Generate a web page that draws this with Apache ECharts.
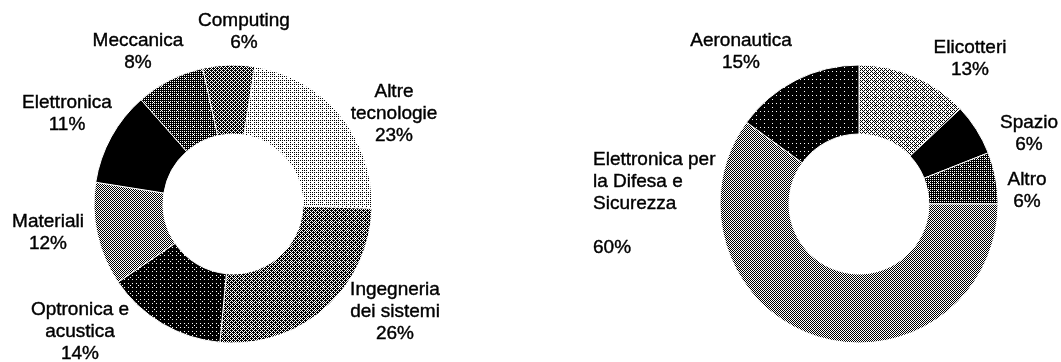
<!DOCTYPE html>
<html>
<head>
<meta charset="utf-8">
<script src="https://cdn.jsdelivr.net/npm/echarts@6/dist/echarts.min.js"></script>
<style>
  html, body { margin: 0; padding: 0; background: #fff; }
  #chart { width: 1061px; height: 362px; }
</style>
</head>
<body>
<div id="chart"></div>
<script>
// dati: aree tecnologiche (sinistra) e settori (destra)
const techNames = ['Altre\ntecnologie', 'Ingegneria\ndei sistemi', 'Optronica e\nacustica', 'Materiali', 'Elettronica', 'Meccanica', 'Computing']
const techValues = [23, 26, 14, 12, 11, 8, 6]
const sectorNames = ['Elicotteri', 'Spazio', 'Altro', 'Elettronica per\nla Difesa e\nSicurezza\n', 'Aeronautica']
const sectorValues = [13, 6, 6, 60, 15]

// retinatura (quota di nero) per ogni spicchio
const techShade = [0.2, 0.6, 0.92, 0.5, 1, 0.72, 0.62]
const sectorShade = [0.38, 1, 0.72, 0.5, 0.94]

// posizione delle etichette (centro del blocco di testo)
const techLabelPos = [[394, 114], [395, 312], [80, 332], [48, 233], [67, 114], [138, 52], [244, 32]]
const sectorLabelPos = [[970, 59], [1029, 134], [1027, 191], [593, 204], [741, 52]]

// matrice di Bayer 8x8 per il retino
const bayer = [
  [0, 32, 8, 40, 2, 34, 10, 42],
  [48, 16, 56, 24, 50, 18, 58, 26],
  [12, 44, 4, 36, 14, 46, 6, 38],
  [60, 28, 52, 20, 62, 30, 54, 22],
  [3, 35, 11, 43, 1, 33, 9, 41],
  [51, 19, 59, 27, 49, 17, 57, 25],
  [15, 47, 7, 39, 13, 45, 5, 37],
  [63, 31, 55, 23, 61, 29, 53, 21]
]

function pattern(level) {
  const c = document.createElement('canvas')
  c.width = 8
  c.height = 8
  const ctx = c.getContext('2d')
  ctx.fillStyle = '#fff'
  ctx.fillRect(0, 0, 8, 8)
  ctx.fillStyle = '#000'
  for (let y = 0; y < 8; y++) {
    for (let x = 0; x < 8; x++) {
      if (bayer[y][x] < level * 64) ctx.fillRect(x, y, 1, 1)
    }
  }
  return { image: c, repeat: 'repeat' }
}

function buildData(names, values, shades) {
  return names.map((n, i) => ({
    name: n,
    value: values[i],
    itemStyle: { color: pattern(shades[i]) }
  }))
}

const labelStyle = {
  show: true,
  position: 'outside',
  formatter: '{b}\n{c}%',
  color: '#000',
  fontFamily: 'Liberation Sans, Arial, sans-serif',
  fontSize: 19,
  lineHeight: 22,
  textBorderColor: '#000',
  textBorderWidth: 0.4
}

const chart = echarts.init(document.getElementById('chart'))
const option = {
  backgroundColor: '#fff',
  animation: false,
  series: [
    {
      type: 'pie',
      center: [233, 204],
      radius: [70, 139],
      startAngle: 81,
      avoidLabelOverlap: false,
      itemStyle: { borderColor: '#fff', borderWidth: 1 },
      label: labelStyle,
      labelLine: { show: false },
      labelLayout: function (p) {
        const pos = techLabelPos[p.dataIndex]
        return { x: pos[0], y: pos[1], align: 'center', verticalAlign: 'middle' }
      },
      emphasis: { disabled: true },
      data: buildData(techNames, techValues, techShade)
    },
    {
      type: 'pie',
      center: [859, 204],
      radius: [70, 139],
      startAngle: 90,
      avoidLabelOverlap: false,
      itemStyle: { borderColor: '#fff', borderWidth: 1 },
      label: labelStyle,
      labelLine: { show: false },
      labelLayout: function (p) {
        const pos = sectorLabelPos[p.dataIndex]
        // etichetta lunga allineata a sinistra
        const align = p.dataIndex === 3 ? 'left' : 'center'
        return { x: pos[0], y: pos[1], align: align, verticalAlign: 'middle' }
      },
      emphasis: { disabled: true },
      data: buildData(sectorNames, sectorValues, sectorShade)
    }
  ]
}
chart.setOption(option)
</script>
</body>
</html>
